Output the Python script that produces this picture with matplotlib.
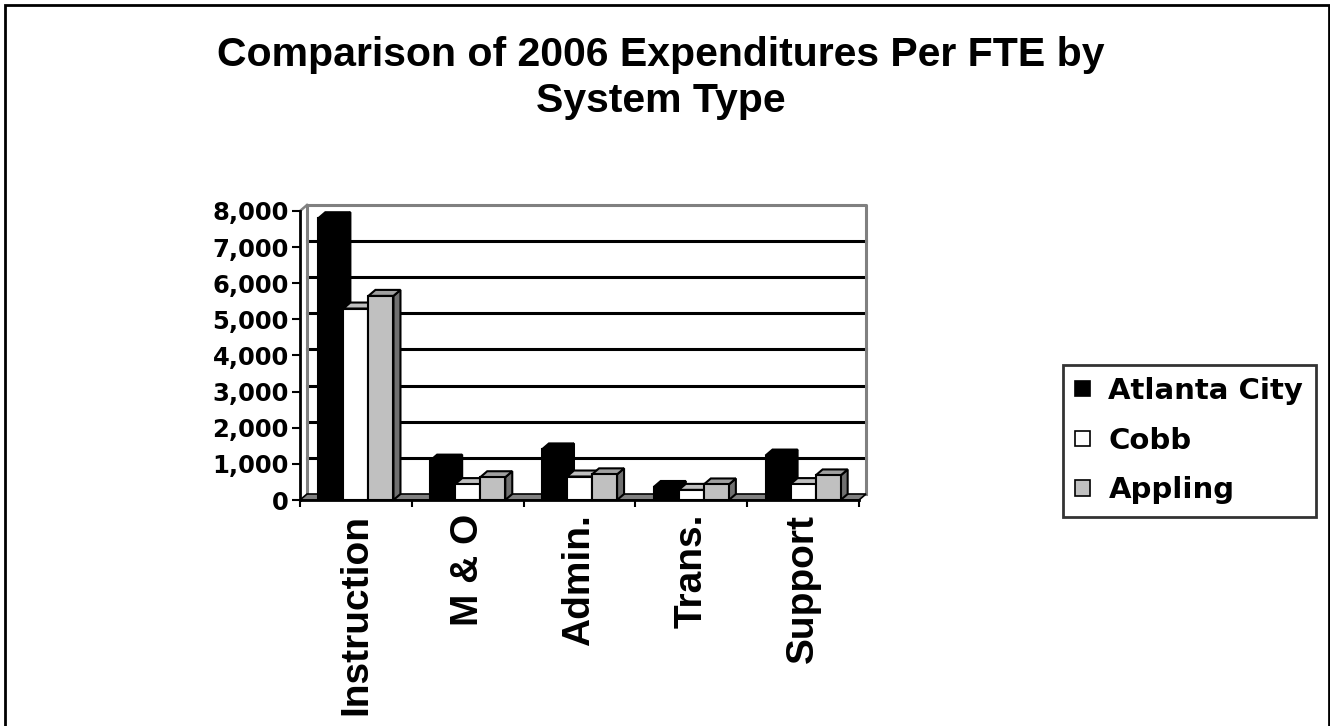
import matplotlib
matplotlib.use("Agg")
import matplotlib.pyplot as plt
from matplotlib.patches import Polygon, Rectangle, Patch
import numpy as np

categories = ["Instruction", "M & O", "Admin.", "Trans.", "Support"]
series_names = ["Atlanta City", "Cobb", "Appling"]
atlanta = [7800, 1090, 1400, 360, 1230]
cobb = [5300, 440, 650, 280, 440]
appling = [5650, 630, 710, 430, 680]
yticks = [0, 1000, 2000, 3000, 4000, 5000, 6000, 7000, 8000]
title = "Comparison of 2006 Expenditures Per FTE by\nSystem Type"

front_colors = ["#000000", "#FFFFFF", "#C0C0C0"]
top_colors = ["#000000", "#C0C0C0", "#A0A0A0"]
side_colors = ["#000000", "#808080", "#707070"]

W, H = 1330, 726
fig = plt.figure(figsize=(W / 100, H / 100), dpi=100)
fig.patch.set_facecolor("white")

# axes position (front plane)
x0p, x1p, y0p, y1p = 300, 859, 500, 211
ax = fig.add_axes([x0p / W, 1 - y0p / H, (x1p - x0p) / W, (y0p - y1p) / H])
ax.set_xlim(-0.5, 4.5)
ax.set_ylim(0, 8000)
ax.set_facecolor("none")

# depth offset in data units
px_x = 5.0 / (x1p - x0p)
px_y = 8000.0 / (y0p - y1p)
DX = 7 * px_x
DY = 6 * px_y

# back wall gridlines
for v in yticks[1:-1]:
    ax.plot([-0.5 + DX, 4.5 + DX], [v + DY, v + DY], color="black", lw=2.2,
            clip_on=False, zorder=1)
# wall borders (gray)
gray = "#808080"
ax.plot([-0.5 + DX, 4.5 + DX, 4.5 + DX], [8000 + DY, 8000 + DY, DY], color=gray,
        lw=2.2, clip_on=False, zorder=1)
ax.plot([-0.5 + DX, -0.5 + DX], [DY, 8000 + DY], color=gray, lw=2.2,
        clip_on=False, zorder=1)
ax.plot([-0.5, -0.5 + DX], [8000, 8000 + DY], color=gray, lw=1.8,
        clip_on=False, zorder=1)
# floor slab
floor = Polygon([(-0.5, 0), (4.5, 0), (4.5 + DX, DY), (-0.5 + DX, DY)],
                closed=True, facecolor="#808080", edgecolor="black", lw=1.2,
                clip_on=False, zorder=2)
ax.add_patch(floor)

# bars
data = [atlanta, cobb, appling]
w = 0.224
x = np.arange(len(categories))
z = 3
for i in range(len(categories)):
    for j, vals in enumerate(data):
        left = x[i] - 1.5 * w + j * w
        h = vals[i]
        side = Polygon([(left + w, 0), (left + w + DX, DY), (left + w + DX, h + DY),
                        (left + w, h)], closed=True, facecolor=side_colors[j],
                       edgecolor="black", lw=1.5, clip_on=False, zorder=z)
        top = Polygon([(left, h), (left + DX, h + DY), (left + w + DX, h + DY),
                       (left + w, h)], closed=True, facecolor=top_colors[j],
                      edgecolor="black", lw=1.5, clip_on=False, zorder=z)
        ax.add_patch(side)
        ax.add_patch(top)
        ax.bar(left, h, width=w, align="edge", color=front_colors[j],
               edgecolor="black", linewidth=1.5, zorder=z + 0.5, clip_on=False)
        z += 1

# spines
for s in ["top", "right"]:
    ax.spines[s].set_visible(False)
ax.spines["left"].set_linewidth(2)
ax.spines["bottom"].set_linewidth(2)
ax.spines["left"].set_zorder(100)
ax.spines["bottom"].set_zorder(100)

ax.set_yticks(yticks)
ax.set_yticklabels([f"{v:,}" for v in yticks], fontfamily="DejaVu Sans",
                   fontweight="bold", fontsize=17.5)
ax.tick_params(axis="y", direction="out", length=6, width=1.5, pad=2)

ax.set_xticks(x)
ax.set_xticklabels(categories, rotation=90, fontfamily="Liberation Sans",
                   fontweight="bold", fontsize=28)
ax.tick_params(axis="x", which="major", length=0, pad=10)
ax.set_xticks(np.arange(-0.5, 5.0, 1.0), minor=True)
ax.tick_params(axis="x", which="minor", direction="out", length=5, width=1.5)

# title
fig.text(661 / W, 1 - 36 / H, title, ha="center", va="top",
         fontfamily="Liberation Sans", fontweight="bold", fontsize=29.5,
         linespacing=1.28)

# legend
handles = [Patch(facecolor=front_colors[k], edgecolor="black", lw=1.2,
                 label=series_names[k]) for k in range(3)]
leg = fig.legend(handles=handles, loc="upper left",
                 bbox_to_anchor=(1063 / W, 1 - 365 / H),
                 prop={"family": "DejaVu Sans", "weight": "bold", "size": 21},
                 frameon=True, fancybox=False, borderpad=0.42,
                 handlelength=0.52, handleheight=0.42, handletextpad=0.62,
                 labelspacing=0.74, borderaxespad=0)
leg.get_frame().set_edgecolor("black")
leg.get_frame().set_linewidth(2)

# outer border
fig.add_artist(Rectangle((5 / W, -0.05), (1329 - 5) / W, 1.05 - 4.5 / H,
                         transform=fig.transFigure, fill=False,
                         edgecolor="black", lw=2, clip_on=False))

fig.savefig("out.png", dpi=100)
